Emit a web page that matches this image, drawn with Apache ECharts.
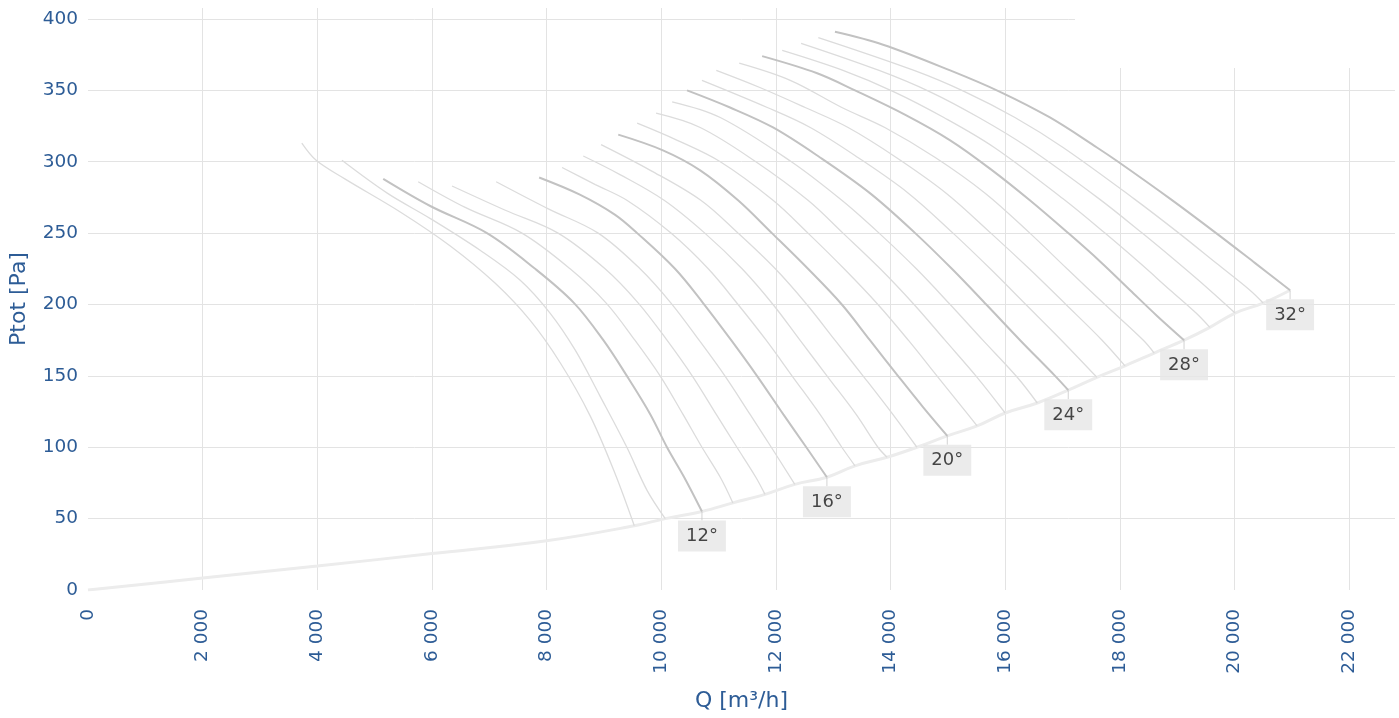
<!DOCTYPE html>
<html><head><meta charset="utf-8">
<script src="https://cdn.jsdelivr.net/npm/echarts@6/dist/echarts.min.js"></script>
<style>html,body{margin:0;padding:0;background:#fff}#c{width:1399px;height:718px}</style>
</head><body><div id="c"></div>
<script>
// blade angles
const angles = [10,11,12,13,14,15,16,17,18,19,20,21,22,23,24,25,26,27,28,29,30,31,32];
const labeledAngles = [12,16,20,24,28,32];
// fan curves [Q m3/h, Ptot Pa]
const curve10 = [[3730,313],[3980,301],[4480,288],[5440,265],[6320,241],[7100,215],[7710,189],[8240,159],[8760,122],[9190,82],[9530,45]];
const curve11 = [[4430,301],[5220,278],[5980,260],[6840,238],[7540,217],[8060,194],[8500,168],[8930,136],[9400,100],[9750,70],[10070,50]];
const curve12 = [[5150,288],[5970,269],[6960,250],[7800,225],[8480,201],[8990,175],[9400,150],[9810,123],[10100,100],[10400,79],[10710,55]];
const curve13 = [[5760,286],[6580,268],[7570,250],[8410,225],[9040,201],[9540,175],[9980,150],[10380,123],[10710,100],[11030,79],[11250,61]];
const curve14 = [[6350,283],[7280,266],[8200,250],[9020,225],[9600,201],[10100,175],[10540,150],[10960,123],[11320,100],[11650,79],[11810,67]];
const curve15 = [[7120,286],[8030,267],[8900,250],[9630,225],[10170,201],[10660,175],[11110,150],[11550,123],[11920,100],[12330,74]];
const curve16 = [[7870,289],[8580,277],[9190,263],[9580,250],[10240,225],[10730,201],[11220,175],[11670,150],[12130,123],[12530,100],[12890,79]];
const curve17 = [[8270,296],[8850,284],[9400,273],[10170,250],[10820,225],[11340,200],[11830,175],[12300,149],[12770,123],[13150,100],[13380,87]];
const curve18 = [[8640,304],[9280,291],[10050,273],[10760,250],[11410,225],[11950,200],[12420,175],[12910,149],[13400,123],[13780,100],[13940,93]];
const curve19 = [[8950,312],[9810,294],[10690,273],[11340,250],[11990,225],[12540,200],[13030,175],[13540,149],[14040,123],[14460,100]];
const curve20 = [[9250,319],[10030,308],[10680,294],[11340,273],[11930,250],[12560,225],[13150,200],[13640,175],[14150,149],[14570,128],[14990,108]];
const curve21 = [[9580,327],[10280,315],[11030,300],[11950,273],[12560,250],[13190,225],[13780,200],[14310,175],[14830,149],[15350,123],[15510,115]];
const curve22 = [[9910,334],[10680,324],[11650,300],[12560,273],[13170,250],[13820,225],[14410,200],[14950,175],[15510,149],[16000,124]];
const curve23 = [[10190,342],[11030,331],[12270,300],[13150,273],[13800,250],[14450,225],[15040,200],[15610,175],[16210,149],[16560,131]];
const curve24 = [[10450,350],[11200,338],[11950,324],[12770,303],[13640,278],[14430,250],[15070,225],[15670,200],[16260,175],[16870,150],[17100,140]];
const curve25 = [[10710,357],[11850,338],[12600,324],[13430,303],[14310,278],[15090,250],[15740,225],[16360,200],[16980,175],[17600,149]];
const curve26 = [[10960,364],[11720,352],[12510,338],[13260,324],[14100,303],[14970,278],[15750,250],[16420,225],[17060,200],[17690,175],[18090,157]];
const curve27 = [[11360,369],[12250,357],[13150,338],[13900,324],[14780,303],[15650,278],[16430,250],[17080,225],[17740,200],[18410,175],[18600,166]];
const curve28 = [[11760,374],[12720,362],[13380,350],[14250,333],[15040,315],[15740,295],[16430,273],[17100,250],[17660,230],[18180,210],[18650,192],[19120,175]];
const curve29 = [[12110,378],[13170,364],[14060,349],[14930,331],[15810,310],[17010,274],[17740,250],[18350,229],[18880,210],[19330,194],[19570,184]];
const curve30 = [[12440,383],[13800,364],[14690,349],[15540,331],[16400,310],[17640,274],[18390,250],[19020,229],[19570,210],[20010,194]];
const curve31 = [[12740,387],[14410,364],[15300,349],[16170,331],[17010,310],[18250,274],[19030,250],[19680,229],[20270,210],[20500,201]];
const curve32 = [[13030,391],[13870,382],[15040,364],[15910,349],[16780,331],[17600,310],[17970,300],[18880,274],[19680,250],[20360,229],[20970,210]];
// system curve from the origin (continues through the curve end points)
const systemStart = [[0,0],[2000,8.4],[4000,16.8],[6000,25.5],[8000,34.5]];
const yTicks = [0,50,100,150,200,250,300,350,400];
const xTicks = [0,2000,4000,6000,8000,10000,12000,14000,16000,18000,20000,22000];

const curves = [curve10,curve11,curve12,curve13,curve14,curve15,curve16,curve17,curve18,curve19,curve20,curve21,curve22,curve23,curve24,curve25,curve26,curve27,curve28,curve29,curve30,curve31,curve32];

const FONT = 'DejaVu Sans';
const BLUE = '#2d5c96';
const chart = echarts.init(document.getElementById('c'), null, {renderer:'canvas'});

const systemCurve = systemStart.concat(curves.map(c => c[c.length-1]));

const series = [{
  type:'line', data: systemCurve, showSymbol:false, smooth:0.4, silent:true, z:1,
  lineStyle:{color:'#ececec', width:3}
}];
angles.forEach((a,i) => {
  const dark = labeledAngles.includes(a);
  series.push({
    type:'line', data: curves[i], showSymbol:false, smooth:0.35, silent:true, z: dark?4:3,
    lineStyle:{color: dark ? '#c2c2c2' : '#dcdcdc', width: dark ? 2 : 1.3}
  });
});
series.push({
  type:'scatter', silent:true, z:5,
  data: labeledAngles.map(a => { const c = curves[angles.indexOf(a)]; const e = c[c.length-1]; return [e[0], e[1], a + '°']; }),
  symbol:'rect', symbolSize:[1,9], symbolOffset:[0,4.5],
  itemStyle:{color:'#c8c8c8'},
  label:{show:true, position:'bottom', distance:0, formatter: p => p.value[2],
    backgroundColor:'#e6e6e6', padding:[6,8,5,8], lineHeight:20, color:'#1a1a1a', fontSize:18, fontFamily:FONT}
});

const gridCol = '#e3e3e3';
const xMax = 22800, yMax = 407.7;
chart.setOption({
  animation:false,
  grid:{left:88, right:4, top:8, bottom:128, containLabel:false, outerBoundsMode:'none'},
  xAxis:{type:'value', min:0, max:xMax, interval:2000,
    name:'Q [m³/h]', nameLocation:'middle', nameGap:100,
    nameTextStyle:{color:BLUE, fontSize:22, fontFamily:FONT},
    axisLine:{show:false}, axisTick:{show:false},
    axisLabel:{rotate:90, margin:19, color:BLUE, fontSize:18.5, fontFamily:FONT,
      formatter: v => xTicks.includes(v) ? (v===0 ? '0' : String(v).replace(/\B(?=(\d{3})+(?!\d))/g,' ')) : ''},
    splitLine:{show:true, lineStyle:{width:1, color: xTicks.map((v,i)=> i===0 ? 'rgba(0,0,0,0)' : gridCol).concat(['rgba(0,0,0,0)'])}}
  },
  yAxis:{type:'value', min:0, max:yMax, interval:50,
    name:'Ptot [Pa]', nameLocation:'middle', nameGap:58,
    nameTextStyle:{color:BLUE, fontSize:22, fontFamily:FONT},
    axisLine:{show:false}, axisTick:{show:false},
    axisLabel:{margin:10, color:BLUE, fontSize:18.5, fontFamily:FONT,
      formatter: v => yTicks.includes(v) ? String(v) : ''},
    splitLine:{show:true, lineStyle:{width:1, color: yTicks.map((v,i)=> i===0 ? 'rgba(0,0,0,0)' : gridCol).concat(['rgba(0,0,0,0)'])}}
  },
  graphic:[{type:'rect', left:1075, top:0, z:100, shape:{width:324, height:68}, style:{fill:'#fff'}}],
  series
});
</script></body></html>
